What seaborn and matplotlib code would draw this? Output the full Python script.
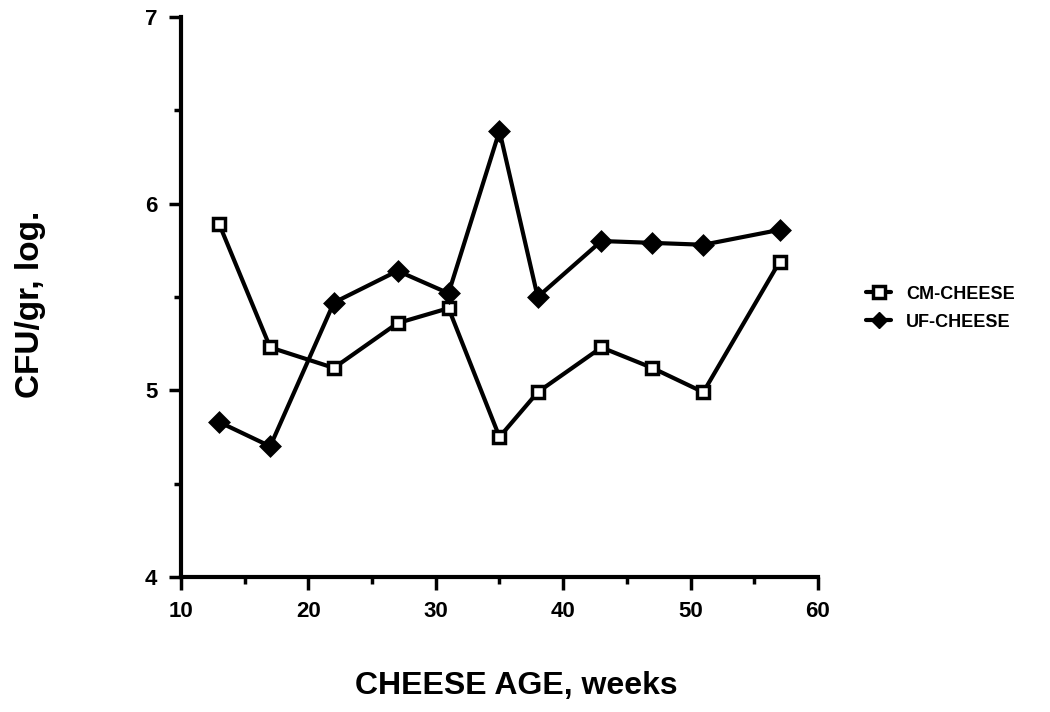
import pandas as pd
import matplotlib
matplotlib.use("Agg")
import matplotlib.pyplot as plt
import seaborn as sns
from matplotlib.ticker import MultipleLocator

sns.set_style("ticks")
plt.rcParams['font.family'] = ['Liberation Sans', 'DejaVu Sans']
plt.rcParams['text.color'] = 'black'

# cheese age (weeks) and log CFU/gr
weeks = [13, 17, 22, 27, 31, 35, 38, 43, 47, 51, 57]
cm_cheese = [5.89, 5.23, 5.12, 5.36, 5.44, 4.75, 4.99, 5.23, 5.12, 4.99, 5.69]
uf_cheese = [4.83, 4.70, 5.47, 5.64, 5.52, 6.39, 5.50, 5.80, 5.79, 5.78, 5.86]
series_names = ["CM-CHEESE", "UF-CHEESE"]

df = pd.DataFrame({
    "week": weeks * 2,
    "cfu": cm_cheese + uf_cheese,
    "cheese": [series_names[0]] * len(weeks) + [series_names[1]] * len(weeks),
})

fig = plt.figure(figsize=(10.5, 7.12), dpi=100)
ax = fig.add_axes([0.1724, 0.1896, 0.6066, 0.7865])

sns.lineplot(data=df, x="week", y="cfu", hue="cheese", style="cheese",
             palette=["black", "black"], markers={"CM-CHEESE": "s", "UF-CHEESE": "D"},
             dashes=False, linewidth=3, markersize=9, markeredgewidth=2.5,
             ax=ax, legend=False)

# open squares for CM, filled for UF
for line, face in zip(ax.lines, ["white", "black"]):
    line.set_markerfacecolor(face)
    line.set_markeredgecolor("black")

ax.set_xlim(10, 60)
ax.set_ylim(4, 7)
ax.xaxis.set_major_locator(MultipleLocator(10))
ax.xaxis.set_minor_locator(MultipleLocator(5))
ax.yaxis.set_major_locator(MultipleLocator(1))
ax.yaxis.set_minor_locator(MultipleLocator(0.5))
ax.tick_params(which="major", length=9, width=2.5, labelsize=16, pad=8,
               color="black", labelcolor="black")
ax.tick_params(which="minor", length=5, width=2.5, color="black")
for lab in ax.get_xticklabels() + ax.get_yticklabels():
    lab.set_fontweight("bold")

sns.despine(ax=ax)
for s in ["left", "bottom"]:
    ax.spines[s].set_linewidth(3)
    ax.spines[s].set_color("black")

ax.set_xlabel("")
ax.set_ylabel("")
fig.text(0.492, 0.036, "CHEESE AGE, weeks", fontsize=23, fontweight="bold",
         ha="center", va="center")
fig.text(0.029, 0.572, "CFU/gr, log.", fontsize=24, fontweight="bold",
         ha="center", va="center", rotation=90)

handles = [plt.Line2D([], [], color="black", lw=3, marker="s", markersize=8,
                      markerfacecolor="white", markeredgewidth=2.5),
           plt.Line2D([], [], color="black", lw=3, marker="D", markersize=8)]
leg = ax.legend(handles, series_names, loc="center left", bbox_to_anchor=(1.05, 0.48),
                frameon=False, fontsize=13, handlelength=1.4, handletextpad=0.8,
                labelspacing=0.6)
for t in leg.get_texts():
    t.set_fontweight("bold")

plt.savefig("out.png", dpi=100)
